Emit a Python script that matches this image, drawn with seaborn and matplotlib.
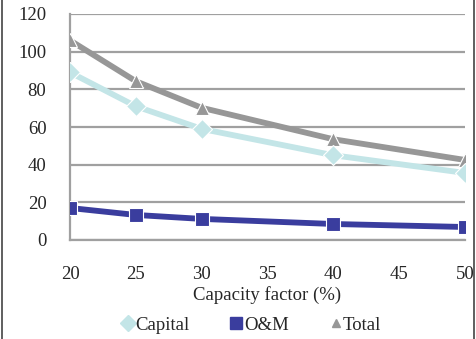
import matplotlib.pyplot as plt
import pandas as pd
import seaborn as sns
from matplotlib.lines import Line2D

capacity_factor = [20, 25, 30, 40, 50]
capital = [89, 71, 59, 45, 35.6]
om = [17, 13.3, 11.2, 8.5, 6.9]
total = [106, 84.3, 70.2, 53.5, 42.5]

series_names = ["Capital", "O&M", "Total"]
colors = {"Capital": "#c3e5e7", "O&M": "#3a3d9e", "Total": "#979797"}
markers = {"Capital": "D", "O&M": "s", "Total": "^"}


def main() -> None:
    df = pd.DataFrame({
        "cf": capacity_factor * 3,
        "value": capital + om + total,
        "series": ["Capital"] * 5 + ["O&M"] * 5 + ["Total"] * 5,
    })

    sns.set_style("white")
    plt.rcParams["font.family"] = ["Liberation Serif", "DejaVu Serif"]

    fig = plt.figure(figsize=(4.76, 3.39), dpi=100)
    ax = fig.add_axes([70 / 476, 1 - 240 / 339, 395 / 476, 226 / 339])

    for name in ["Total", "Capital", "O&M"]:
        sub = df[df["series"] == name]
        sns.lineplot(data=sub, x="cf", y="value", ax=ax, color=colors[name],
                     linewidth=4.2, marker=markers[name], markersize=10,
                     markeredgecolor="white", markeredgewidth=0.8,
                     legend=False, zorder=3)

    ax.set_xlim(20, 50)
    ax.set_ylim(0, 120)
    ax.set_xticks(range(20, 51, 5))
    ax.set_yticks(range(0, 121, 20))
    ax.grid(axis="y", color="#a0a0a0", linewidth=1.6)
    ax.grid(axis="x", visible=False)
    for side in ["top", "right"]:
        ax.spines[side].set_visible(False)
    for side in ["left", "bottom"]:
        ax.spines[side].set_color("#a0a0a0")
        ax.spines[side].set_linewidth(1.6)
    ax.tick_params(axis="x", direction="out", length=5, width=1.6, color="#a0a0a0",
                   pad=14, labelsize=13.5)
    ax.tick_params(axis="y", direction="out", length=5, width=1.6, color="#a0a0a0",
                   pad=12, labelsize=13.5)
    ax.set_xlabel("Capacity factor (%)", fontsize=13.5, labelpad=2)
    ax.set_ylabel("")

    handles = [Line2D([], [], linestyle="none", marker=markers[n], color=colors[n],
                      markersize=8 if n != "Total" else 6) for n in series_names]
    fig.legend(handles, series_names, loc="lower center", ncol=3, frameon=False,
               bbox_to_anchor=(0.525, -0.035), fontsize=13.5, handletextpad=-0.1,
               columnspacing=2.0, handlelength=1.0)

    fig.add_artist(Line2D([0.004, 0.004], [0, 1], color="#444444", linewidth=1.2))
    fig.add_artist(Line2D([0.996, 0.996], [0, 1], color="#444444", linewidth=1.2))

    fig.savefig("out.png", dpi=100)


if __name__ == "__main__":
    main()
